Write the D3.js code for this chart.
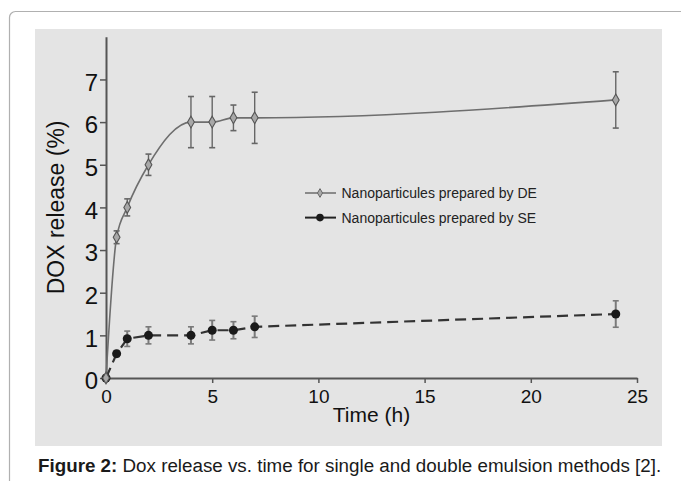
<!DOCTYPE html>
<html>
<head>
<meta charset="utf-8">
<script src="https://cdn.jsdelivr.net/npm/d3@7"></script>
<style>
  body { margin: 0; background: #fff; }
  svg text { font-family: "Liberation Sans", Arial, sans-serif; }
</style>
</head>
<body>
<div id="chart"></div>
<script>
const times = [0, 0.5, 1, 2, 4, 5, 6, 7, 24];
const deRelease = [0, 3.3, 4.0, 5.0, 6.0, 6.0, 6.1, 6.1, 6.52];
const deError = [0, 0.15, 0.2, 0.25, 0.6, 0.6, 0.3, 0.6, 0.66];
const seRelease = [0, 0.57, 0.92, 1.0, 1.0, 1.12, 1.12, 1.2, 1.5];
const seError = [0, 0.07, 0.18, 0.2, 0.2, 0.23, 0.2, 0.25, 0.31];
const xTicks = [0, 5, 10, 15, 20, 25];
const yTicks = [0, 1, 2, 3, 4, 5, 6, 7];
const legendLabels = ["Nanoparticules prepared by DE", "Nanoparticules prepared by SE"];
const caption = ["Figure 2:", " Dox release vs. time for single and double emulsion methods [2]."];

const W = 681, H = 481;

const svg = d3.select("#chart")
    .append("svg")
    .attr("width", W)
    .attr("height", H);

// outer frame and grey panel
svg.append("rect")
    .attr("x", 9.5).attr("y", 11.5)
    .attr("width", 720).attr("height", 520)
    .attr("rx", 6)
    .attr("fill", "none")
    .attr("stroke", "#b0b0b0")
    .attr("stroke-width", 1.2);

svg.append("rect")
    .attr("x", 35).attr("y", 29)
    .attr("width", 627).attr("height", 417)
    .attr("fill", "#e4e4e4");

const xScale = d3.scaleLinear().domain([0, 25]).range([106, 637]);
const yScale = d3.scaleLinear().domain([0, 8]).range([378, 36.8]);

// axes
const xAxis = svg.append("g")
    .attr("transform", `translate(0,${yScale(0)})`)
    .call(d3.axisBottom(xScale).tickValues(xTicks).tickSize(5).tickSizeOuter(0).tickPadding(7));
xAxis.selectAll("text").attr("font-size", 19).attr("fill", "#111");

const yAxis = svg.append("g")
    .attr("transform", `translate(${xScale(0)},0)`)
    .call(d3.axisLeft(yScale).tickValues(yTicks).tickSize(6).tickSizeOuter(0).tickPadding(2));
yAxis.selectAll("text").attr("font-size", 24).attr("fill", "#111").attr("dy", "0.45em");

svg.selectAll(".domain").attr("stroke", "#555").attr("stroke-width", 2);
svg.selectAll(".tick line").attr("stroke", "#555").attr("stroke-width", 1.5);

svg.append("text")
    .attr("x", (xScale(0) + xScale(25)) / 2)
    .attr("y", 422)
    .attr("text-anchor", "middle")
    .attr("font-size", 21)
    .attr("fill", "#111")
    .text("Time (h)");

svg.append("text")
    .attr("transform", `translate(63.5,${(yScale(0) + yScale(8)) / 2}) rotate(-90)`)
    .attr("text-anchor", "middle")
    .attr("font-size", 23)
    .attr("fill", "#111")
    .text("DOX release (%)");

const de = times.map((t, i) => ({t: t, v: deRelease[i], e: deError[i]}));
const se = times.map((t, i) => ({t: t, v: seRelease[i], e: seError[i]}));

function errorBars(data, color, width) {
    const g = svg.append("g");
    const pts = data.filter(d => d.e > 0);
    g.selectAll(".v").data(pts).enter().append("line")
        .attr("x1", d => xScale(d.t)).attr("x2", d => xScale(d.t))
        .attr("y1", d => yScale(d.v - d.e)).attr("y2", d => yScale(d.v + d.e))
        .attr("stroke", color).attr("stroke-width", width);
    [-1, 1].forEach(s => {
        g.selectAll(".c" + s).data(pts).enter().append("line")
            .attr("x1", d => xScale(d.t) - 3).attr("x2", d => xScale(d.t) + 3)
            .attr("y1", d => yScale(d.v + s * d.e)).attr("y2", d => yScale(d.v + s * d.e))
            .attr("stroke", color).attr("stroke-width", 1.6);
    });
}

// SE series: dashed line with black dots
errorBars(se, "#7a7a7a", 2);
svg.append("path")
    .datum(se)
    .attr("fill", "none")
    .attr("stroke", "#333")
    .attr("stroke-width", 2.2)
    .attr("stroke-dasharray", "11,6")
    .attr("d", d3.line().x(d => xScale(d.t)).y(d => yScale(d.v)));
svg.selectAll(".se-dot").data(se).enter().append("circle")
    .attr("cx", d => xScale(d.t))
    .attr("cy", d => yScale(d.v))
    .attr("r", 4.5)
    .attr("fill", "#1a1a1a");

// DE series: smooth grey line with diamonds
errorBars(de, "#666", 1.4);
svg.append("path")
    .datum(de)
    .attr("fill", "none")
    .attr("stroke", "#6e6e6e")
    .attr("stroke-width", 1.6)
    .attr("d", d3.line().curve(d3.curveMonotoneX).x(d => xScale(d.t)).y(d => yScale(d.v)));
svg.selectAll(".de-dot").data(de).enter().append("path")
    .attr("transform", d => `translate(${xScale(d.t)},${yScale(d.v)})`)
    .attr("d", d3.symbol(d3.symbolDiamond, 40))
    .attr("fill", "#a8a8a8")
    .attr("stroke", "#555")
    .attr("stroke-width", 1.1);

// legend
const legend = svg.append("g").attr("transform", "translate(305,193)");
legendLabels.forEach((label, i) => {
    const row = legend.append("g").attr("transform", `translate(0,${i * 24.6})`);
    row.append("line")
        .attr("x1", 0).attr("x2", 31)
        .attr("stroke", i === 0 ? "#8a8a8a" : "#222")
        .attr("stroke-width", 2);
    if (i === 0) {
        row.append("path")
            .attr("transform", "translate(15,0)")
            .attr("d", d3.symbol(d3.symbolDiamond, 22))
            .attr("fill", "#aaa").attr("stroke", "#666");
    } else {
        row.append("circle").attr("cx", 15).attr("r", 3.8).attr("fill", "#1a1a1a");
    }
    row.append("text")
        .attr("x", 36.5).attr("dy", "0.36em")
        .attr("font-size", 14)
        .attr("fill", "#222")
        .text(label);
});

// caption
const cap = svg.append("text")
    .attr("x", 38).attr("y", 472)
    .attr("font-size", 18.8)
    .attr("fill", "#1a1a1a");
cap.append("tspan").attr("font-weight", "bold").text(caption[0]);
cap.append("tspan").text(caption[1]);
</script>
</body>
</html>
